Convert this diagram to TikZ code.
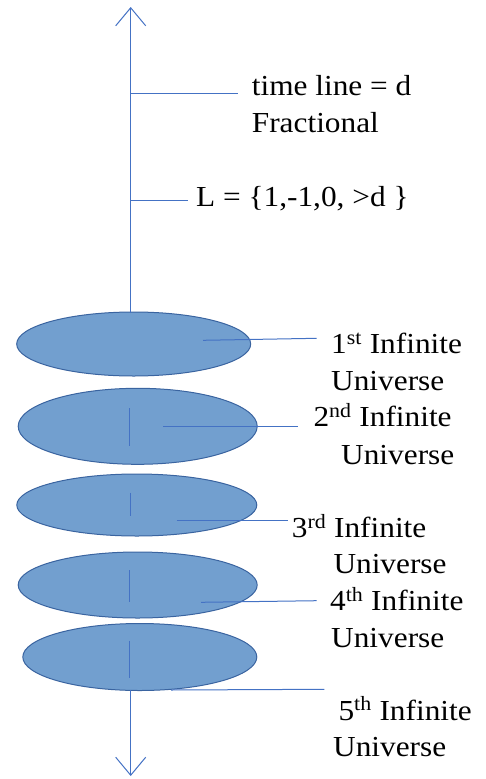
\documentclass[tikz,border=0pt]{standalone}
\usepackage{fontspec}
\setmainfont[FakeStretch=1.08]{Liberation Serif}
\usetikzlibrary{arrows.meta,shapes.geometric}
\definecolor{ufill}{RGB}{114,159,207}
\definecolor{uline}{RGB}{58,100,160}
\definecolor{cline}{RGB}{68,114,196}
\begin{document}
\begin{tikzpicture}[x=1pt,y=-1pt,
  uni/.style={ellipse,draw=uline,fill=ufill,line width=1pt,inner sep=0pt},
  conn/.style={draw=cline,line width=1pt},
  axisarrow/.style={conn,-{Straight Barb[length=18pt,width=30pt,line width=1pt]}},
  lbl/.style={anchor=base west,inner sep=0pt,font=\fontsize{29}{37}\selectfont}]
\useasboundingbox (0,0) rectangle (486,779);
% universes
\node[uni,minimum width=234pt,minimum height=64pt] (e1) at (133.7,344) {};
\node[uni,minimum width=239pt,minimum height=76pt] (e2) at (137.7,426.3) {};
\node[uni,minimum width=240pt,minimum height=62pt] (e3) at (136.8,505) {};
\node[uni,minimum width=239pt,minimum height=66pt] (e4) at (137.7,585) {};
\node[uni,minimum width=234pt,minimum height=67pt] (e5) at (139.8,657) {};
% axis
\coordinate (axtop) at (130.7,7);
\coordinate (axa) at (130.7,313);
\coordinate (axbot) at (130.7,776);
\coordinate (axb) at (130.7,690);
\draw[axisarrow] (axa) -- (axtop);
\draw[axisarrow] (axb) -- (axbot);
\coordinate (s2a) at (129.5,408); \coordinate (s2b) at (129.5,446);
\coordinate (s3a) at (130.5,492.7); \coordinate (s3b) at (130.5,516);
\coordinate (s4a) at (129.5,570); \coordinate (s4b) at (129.5,601.7);
\coordinate (s5a) at (129.5,640.7); \coordinate (s5b) at (129.5,678);
\draw[conn] (s2a) -- (s2b);
\draw[conn] (s3a) -- (s3b);
\draw[conn] (s4a) -- (s4b);
\draw[conn] (s5a) -- (s5b);
% top labels
\node[lbl] (tl) at (251.7,95) {time line = d};
\node[lbl] (fr) at (251.7,132.7) {Fractional};
\node[lbl] (L) at (196,206.7) {L = \{1,-1,0, >d \}};
\coordinate (tla) at (130.7,93.7); \coordinate (tlb) at (238.3,93.7);
\coordinate (La) at (130.7,200.3); \coordinate (Lb) at (188.3,200.3);
\draw[conn] (tla) -- (tlb);
\draw[conn] (La) -- (Lb);
% universe labels
\node[lbl] (u1a) at (331,353.3) {1\textsuperscript{st} Infinite};
\node[lbl] (u1b) at (331,390.7) {Universe};
\node[lbl] (u2a) at (313.3,426.7) {2\textsuperscript{nd} Infinite};
\node[lbl] (u2b) at (341,464) {Universe};
\node[lbl] (u3a) at (291.7,537.3) {3\textsuperscript{rd} Infinite};
\node[lbl] (u3b) at (333.3,573.3) {Universe};
\node[lbl] (u4a) at (330,610.7) {4\textsuperscript{th} Infinite};
\node[lbl] (u4b) at (331,647.7) {Universe};
\node[lbl] (u5a) at (338.3,720) {5\textsuperscript{th} Infinite};
\node[lbl] (u5b) at (333,756.7) {Universe};
% universe connectors
\coordinate (c1a) at (203,340.3); \coordinate (c1b) at (316.7,338.3);
\coordinate (c2a) at (163.3,426); \coordinate (c2b) at (298.3,426);
\coordinate (c3a) at (176.7,520); \coordinate (c3b) at (288.3,520);
\coordinate (c4a) at (201,602.3); \coordinate (c4b) at (316.7,600.7);
\coordinate (c5a) at (171,690); \coordinate (c5b) at (324.3,689.3);
\draw[conn] (c1a) -- (c1b);
\draw[conn] (c2a) -- (c2b);
\draw[conn] (c3a) -- (c3b);
\draw[conn] (c4a) -- (c4b);
\draw[conn] (c5a) -- (c5b);
\end{tikzpicture}
\end{document}
